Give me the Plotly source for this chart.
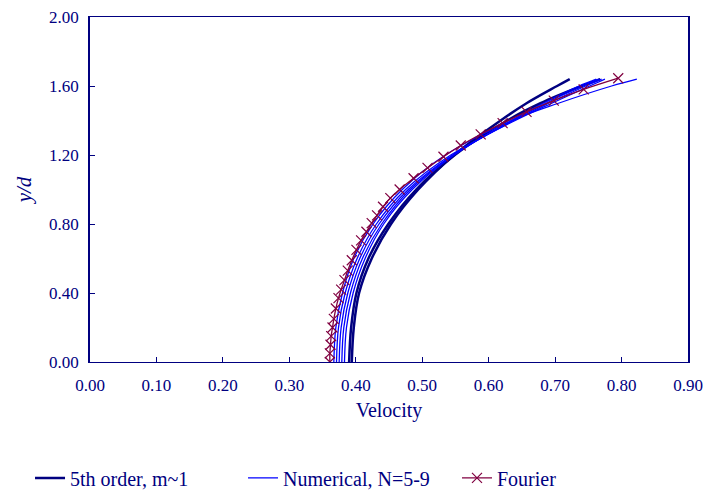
import plotly.graph_objects as go

# ---- data ----
Y_PROFILE = [0.0, 0.2, 0.4, 0.6, 0.8, 1.0, 1.2, 1.4, 1.5, 1.6, 1.64]

FIFTH_ORDER_A = [0.394, 0.397, 0.405, 0.424, 0.453, 0.494, 0.548, 0.618, 0.657, 0.703, 0.722]
FIFTH_ORDER_B = [0.390, 0.393, 0.401, 0.419, 0.449, 0.491, 0.549, 0.628, 0.678, 0.740, 0.768]

NUM_N5 = [0.367, 0.370, 0.380, 0.397, 0.426, 0.470, 0.535, 0.635, 0.705, 0.785, 0.823]
NUM_N6 = [0.371, 0.374, 0.384, 0.402, 0.431, 0.475, 0.543, 0.640, 0.695, 0.752, 0.775]
NUM_N7 = [0.375, 0.378, 0.388, 0.406, 0.435, 0.479, 0.546, 0.638, 0.690, 0.746, 0.770]
NUM_N8 = [0.379, 0.382, 0.392, 0.410, 0.439, 0.482, 0.547, 0.636, 0.686, 0.741, 0.766]
NUM_N9 = [0.383, 0.386, 0.396, 0.414, 0.442, 0.485, 0.548, 0.634, 0.682, 0.736, 0.762]

FOURIER_Y = [0.00, 0.05, 0.10, 0.15, 0.20, 0.25, 0.31, 0.37, 0.42, 0.475, 0.53, 0.59, 0.65,
             0.705, 0.755, 0.805, 0.85, 0.90, 0.95, 1.00, 1.065, 1.125, 1.19, 1.255, 1.32,
             1.385, 1.45, 1.515, 1.58, 1.645]
FOURIER_V = [0.361, 0.361, 0.362, 0.363, 0.365, 0.367, 0.370, 0.374, 0.378, 0.383, 0.388, 0.394,
             0.401, 0.408, 0.416, 0.424, 0.432, 0.441, 0.452, 0.466, 0.487, 0.508, 0.532, 0.558,
             0.588, 0.621, 0.657, 0.698, 0.743, 0.795]

X_TICKS = [0.0, 0.1, 0.2, 0.3, 0.4, 0.5, 0.6, 0.7, 0.8, 0.9]
Y_TICKS = [0.0, 0.4, 0.8, 1.2, 1.6, 2.0]

NAVY = "#000080"
BLUE = "#0000FF"
MAROON = "#800040"
FONT = "Liberation Serif, Times New Roman, serif"

fig = go.Figure()

for i, v in enumerate([FIFTH_ORDER_A, FIFTH_ORDER_B]):
    fig.add_trace(go.Scatter(
        x=v, y=Y_PROFILE, mode="lines", line=dict(color=NAVY, width=2.5, shape="spline"),
        name="5th order, m~1", legend="legend", legendgroup="fifth", showlegend=(i == 0)))

for i, v in enumerate([NUM_N5, NUM_N6, NUM_N7, NUM_N8, NUM_N9]):
    fig.add_trace(go.Scatter(
        x=v, y=Y_PROFILE, mode="lines", line=dict(color=BLUE, width=1.3, shape="spline"),
        name="Numerical, N=5-9", legend="legend2", legendgroup="num", showlegend=(i == 0)))

fig.add_trace(go.Scatter(
    x=FOURIER_V, y=FOURIER_Y, mode="lines+markers",
    line=dict(color=MAROON, width=1.3, shape="spline"),
    marker=dict(symbol="x-thin-open", size=10, line=dict(color=MAROON, width=1.2), color=MAROON),
    name="Fourier", legend="legend3"))

leg_common = dict(orientation="h", yanchor="middle", y=-0.336, xanchor="left",
                  font=dict(family=FONT, size=20, color=NAVY), bgcolor="rgba(0,0,0,0)")

fig.update_layout(
    width=704, height=492,
    margin=dict(l=90, r=16, t=17, b=130, autoexpand=False),
    paper_bgcolor="white", plot_bgcolor="white",
    font=dict(family=FONT, size=17, color=NAVY),
    legend=dict(x=-0.1003, **leg_common),
    legend2=dict(x=0.2559, **leg_common),
    legend3=dict(x=0.6137, **leg_common),
    xaxis=dict(
        range=[0, 0.9], tickvals=X_TICKS, tickformat=".2f",
        showgrid=False, zeroline=False, showline=True, mirror=True,
        linecolor=NAVY, linewidth=1, ticks="inside", ticklen=5, tickcolor=NAVY,
        tickfont=dict(family=FONT, size=17, color=NAVY), ticklabelstandoff=8,
        title=dict(text="Velocity", font=dict(family=FONT, size=20, color=NAVY), standoff=8),
    ),
    yaxis=dict(
        range=[0, 2.0], tickvals=Y_TICKS, tickformat=".2f",
        showgrid=False, zeroline=False, showline=True, mirror=True,
        linecolor=NAVY, linewidth=1.5, ticks="inside", ticklen=5, tickcolor=NAVY,
        tickfont=dict(family=FONT, size=17, color=NAVY), ticklabelstandoff=6,
        title=dict(text="<i>y/d</i>", font=dict(family=FONT, size=21, color=NAVY), standoff=12),
    ),
)

fig.write_html("out.html")
